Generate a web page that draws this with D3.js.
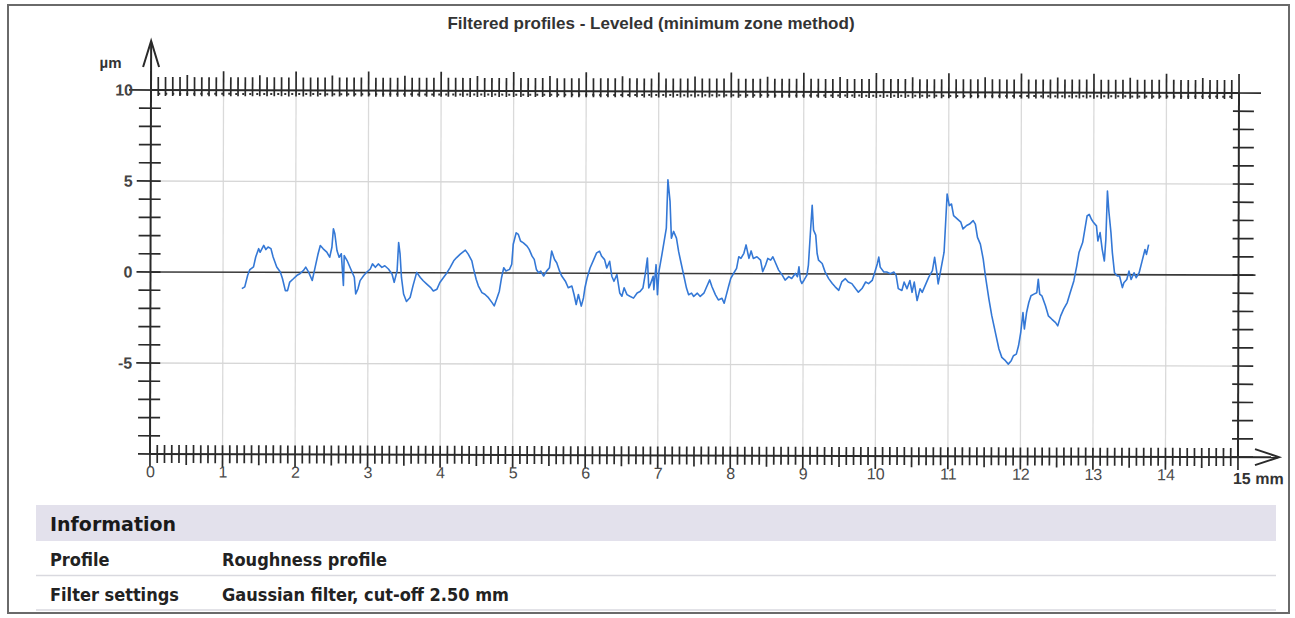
<!DOCTYPE html>
<html>
<head>
<meta charset="utf-8">
<script src="https://cdn.jsdelivr.net/npm/d3@7"></script>
<style>
  body { margin: 0; background: #fff; }
  svg { display: block; }
</style>
</head>
<body>
<div id="wrapper"></div>
<script>
// Profile (x in mm, height in µm)
const profileMm = [
  1.26, 1.30, 1.34, 1.37, 1.42, 1.45, 1.49, 1.51, 1.56, 1.59, 1.62, 1.66, 1.69, 1.74, 1.79, 1.82, 1.86, 1.89, 1.92, 1.97,
  2.02, 2.06, 2.11, 2.14, 2.18, 2.23, 2.27, 2.31, 2.34, 2.38, 2.43, 2.47, 2.50, 2.52, 2.54, 2.57, 2.60, 2.63, 2.66, 2.67,
  2.71, 2.75, 2.78, 2.81, 2.83, 2.86, 2.89, 2.94, 2.98, 3.03, 3.06, 3.10, 3.14, 3.19, 3.23, 3.28, 3.33, 3.36, 3.40, 3.42,
  3.44, 3.46, 3.49, 3.53, 3.58, 3.62, 3.67, 3.72, 3.76, 3.81, 3.86, 3.90, 3.95, 3.99, 4.04, 4.09, 4.13, 4.18, 4.22, 4.27,
  4.34, 4.38, 4.43, 4.45, 4.49, 4.52, 4.57, 4.61, 4.66, 4.71, 4.74, 4.78, 4.81, 4.84, 4.87, 4.90, 4.95, 4.98, 5.00, 5.04,
  5.07, 5.10, 5.14, 5.19, 5.22, 5.26, 5.29, 5.32, 5.35, 5.38, 5.42, 5.46, 5.50, 5.53, 5.57, 5.60, 5.64, 5.67, 5.72, 5.76,
  5.81, 5.84, 5.87, 5.90, 5.94, 5.97, 5.99, 6.02, 6.06, 6.11, 6.15, 6.19, 6.22, 6.26, 6.29, 6.33, 6.36, 6.39, 6.43, 6.47,
  6.50, 6.53, 6.57, 6.61, 6.66, 6.71, 6.75, 6.79, 6.82, 6.85, 6.87, 6.89, 6.93, 6.94, 6.97, 6.99, 7.01, 7.05, 7.08, 7.11,
  7.13, 7.16, 7.18, 7.21, 7.25, 7.28, 7.31, 7.35, 7.39, 7.42, 7.46, 7.49, 7.54, 7.58, 7.63, 7.67, 7.71, 7.74, 7.79, 7.83,
  7.88, 7.91, 7.94, 7.97, 8.00, 8.04, 8.08, 8.11, 8.14, 8.18, 8.21, 8.25, 8.28, 8.31, 8.36, 8.41, 8.44, 8.48, 8.51, 8.55,
  8.58, 8.61, 8.66, 8.71, 8.75, 8.80, 8.84, 8.89, 8.92, 8.94, 8.96, 8.98, 9.01, 9.05, 9.07, 9.10, 9.12, 9.14, 9.17, 9.19,
  9.21, 9.26, 9.30, 9.35, 9.40, 9.44, 9.49, 9.53, 9.58, 9.62, 9.67, 9.72, 9.76, 9.81, 9.86, 9.90, 9.95, 9.98, 10.02, 10.04,
  10.06, 10.11, 10.15, 10.20, 10.25, 10.28, 10.31, 10.36, 10.39, 10.43, 10.47, 10.50, 10.53, 10.57, 10.61, 10.64, 10.69, 10.73, 10.78, 10.81,
  10.84, 10.86, 10.89, 10.94, 10.98, 11.01, 11.04, 11.07, 11.12, 11.17, 11.20, 11.25, 11.29, 11.34, 11.37, 11.40, 11.44, 11.48, 11.51, 11.56,
  11.60, 11.65, 11.70, 11.74, 11.79, 11.83, 11.87, 11.90, 11.94, 11.97, 12.00, 12.03, 12.05, 12.08, 12.11, 12.14, 12.18, 12.22, 12.24, 12.26,
  12.29, 12.34, 12.38, 12.43, 12.48, 12.51, 12.55, 12.59, 12.64, 12.68, 12.73, 12.77, 12.80, 12.85, 12.88, 12.91, 12.94, 12.97, 13.00, 13.04,
  13.06, 13.09, 13.12, 13.15, 13.17, 13.19, 13.21, 13.24, 13.26, 13.29, 13.33, 13.36, 13.40, 13.42, 13.46, 13.49, 13.52, 13.56, 13.59, 13.63,
  13.67, 13.71, 13.73, 13.76
]
const profileUm = [
  -0.90, -0.80, -0.16, 0.15, 0.30, 0.84, 1.30, 1.10, 1.48, 1.25, 1.39, 1.30, 0.84, 0.29, 0.02, -0.35, -1.00, -1.00, -0.53, -0.35,
  -0.16, -0.07, 0.11, 0.29, 0.02, -0.44, 0.29, 1.03, 1.48, 1.30, 1.12, 0.84, 1.39, 2.40, 2.13, 1.21, 0.84, 1.03, -0.71, 0.93,
  0.66, 0.29, 0.02, -0.26, -1.17, -0.90, -0.44, -0.16, 0.02, 0.20, 0.48, 0.29, 0.48, 0.29, 0.38, 0.20, -0.07, -0.53, 0.11, 1.66,
  1.03, -0.26, -1.17, -1.58, -1.36, -0.71, 0.02, -0.26, -0.44, -0.62, -0.80, -1.00, -0.90, -0.53, -0.26, 0.02, 0.29, 0.66, 0.84, 1.03,
  1.25, 1.03, 0.66, 0.29, -0.35, -0.71, -1.08, -1.17, -1.36, -1.63, -1.81, -1.36, -1.00, -0.26, 0.29, 0.11, 0.20, 0.48, 1.58, 2.21,
  2.12, 1.76, 1.66, 1.48, 1.30, 0.93, 0.75, 0.20, 0.02, 0.11, -0.16, 0.11, 0.29, 1.21, 0.75, 0.57, 0.11, -0.16, -0.44, -0.80,
  -0.71, -1.17, -1.72, -1.17, -1.81, -1.36, -0.80, -0.26, 0.29, 0.75, 1.12, 1.21, 0.93, 0.75, 0.29, 0.66, -0.16, -0.44, -0.07, -1.08,
  -1.26, -0.80, -1.17, -1.26, -1.36, -1.08, -1.00, -0.80, -0.07, 0.84, -0.80, -0.62, -0.16, -0.90, 0.48, -1.17, 0.11, 1.03, 1.76, 2.49,
  5.15, 3.96, 1.94, 2.31, 1.94, 1.21, 0.66, -0.07, -0.80, -1.17, -1.08, -1.26, -1.08, -1.26, -1.08, -0.71, -0.35, -0.71, -1.17, -1.45,
  -1.36, -1.63, -1.17, -0.71, -0.26, 0.02, 0.29, 0.93, 0.84, 1.12, 1.58, 0.84, 1.25, 0.84, 0.93, 0.75, 0.11, 0.48, 0.84, 0.75,
  0.93, 0.66, 0.20, -0.07, -0.35, -0.16, -0.26, 0.02, -0.16, 0.38, -0.35, -0.53, -0.35, -0.07, 0.48, 2.49, 3.77, 2.40, 2.13, 1.12,
  0.75, 0.57, 0.11, -0.26, -0.53, -0.71, -0.90, -0.44, -0.26, -0.44, -0.53, -0.80, -1.00, -0.80, -0.44, -0.53, -0.35, 0.02, 0.57, 0.93,
  0.38, 0.11, 0.11, 0.02, 0.11, -0.07, -0.80, -0.90, -0.44, -0.80, -0.35, -1.00, -0.44, -1.45, -0.80, -1.00, -0.53, -0.16, 0.20, 0.93,
  0.11, -0.53, 0.11, 1.21, 4.41, 3.77, 3.86, 3.22, 3.04, 2.86, 2.49, 2.68, 2.76, 2.95, 2.76, 2.03, 1.66, 0.84, -0.07, -1.36,
  -2.27, -3.19, -4.10, -4.56, -4.74, -4.93, -4.74, -4.47, -4.38, -3.92, -3.19, -2.09, -3.00, -2.09, -1.54, -1.17, -1.08, -1.00, -0.26, -1.08,
  -1.17, -1.72, -2.27, -2.46, -2.64, -2.82, -2.27, -1.90, -1.54, -1.00, -0.35, 0.48, 1.21, 1.76, 2.49, 3.22, 3.31, 3.04, 2.86, 2.68,
  1.85, 2.31, 1.39, 0.75, 1.94, 4.60, 3.50, 2.31, 1.21, 0.11, -0.07, -0.07, -0.71, -0.44, -0.26, 0.20, -0.26, 0.11, -0.16, 0.11,
  0.75, 1.39, 1.12, 1.66
]

const xTickLabels = ["0", "1", "2", "3", "4", "5", "6", "7", "8", "9", "10", "11", "12", "13", "14"]
const xLastLabel = "15 mm"
const yTickValues = [10, 5, 0, -5]
const yGridValues = [5, -5]
const zoneTop = 9.8

const chartTitle = "Filtered profiles - Leveled (minimum zone method)"
const yUnit = "µm"
const infoHeader = "Information"
const infoLabels = ["Profile", "Filter settings"]
const infoValues = ["Roughness profile", "Gaussian filter, cut-off 2.50 mm"]

const dimensions = {
  width: 1295,
  height: 618,
  left: 150.5,
  right: 1238.5,
  top: 90,
  bottom: 454
}

const svg = d3.select("#wrapper")
  .append("svg")
  .attr("width", dimensions.width)
  .attr("height", dimensions.height)
  .style("font-family", "'Liberation Sans', Arial, sans-serif")

// frame
svg.append("rect")
  .attr("x", 8)
  .attr("y", 5)
  .attr("width", 1281)
  .attr("height", 608)
  .attr("fill", "none")
  .attr("stroke", "#6a6a6a")
  .attr("stroke-width", 2)

svg.append("text")
  .attr("x", 651)
  .attr("y", 29)
  .attr("text-anchor", "middle")
  .attr("font-size", "17px")
  .attr("font-weight", "bold")
  .attr("fill", "#333")
  .text(chartTitle)

// scanned page is slightly tilted
const plot = svg.append("g")
  .attr("transform", "rotate(0.16, 150, 272)")

const xScale = d3.scaleLinear()
  .domain([0, 15])
  .range([dimensions.left, dimensions.right])

const yScale = d3.scaleLinear()
  .domain([-10, 10])
  .range([dimensions.bottom, dimensions.top])

// grid
plot.append("g")
  .selectAll("line")
  .data(d3.range(1, 15))
  .join("line")
  .attr("x1", d => xScale(d))
  .attr("x2", d => xScale(d))
  .attr("y1", yScale(10))
  .attr("y2", yScale(-10))
  .attr("stroke", "#dadada")
  .attr("stroke-width", 1.3)

plot.append("g")
  .selectAll("line")
  .data(yGridValues)
  .join("line")
  .attr("x1", xScale(0))
  .attr("x2", xScale(15))
  .attr("y1", d => yScale(d))
  .attr("y2", d => yScale(d))
  .attr("stroke", "#d6d6d6")
  .attr("stroke-width", 1.3)

// zone line below top axis
plot.append("line")
  .attr("x1", xScale(0.1))
  .attr("x2", xScale(14.9))
  .attr("y1", yScale(zoneTop))
  .attr("y2", yScale(zoneTop))
  .attr("stroke", "#333")
  .attr("stroke-width", 2)
  .attr("stroke-dasharray", "2 5")

// zero line
plot.append("line")
  .attr("x1", xScale(0))
  .attr("x2", xScale(15) + 17)
  .attr("y1", yScale(0))
  .attr("y2", yScale(0))
  .attr("stroke", "#3a3a3a")
  .attr("stroke-width", 1.6)

// profile
const lineGenerator = d3.line()
  .x(d => xScale(profileMm[d]))
  .y(d => yScale(profileUm[d]))

plot.append("path")
  .attr("d", lineGenerator(d3.range(profileMm.length)))
  .attr("fill", "none")
  .attr("stroke", "#3478d6")
  .attr("stroke-width", 1.6)
  .attr("stroke-linejoin", "round")

// x ticks every 0.1 mm, top and bottom
const xMinor = d3.range(0, 151).map(i => i / 10)
const tickLen = (d, big, mid, small) => {
  const i = Math.round(d * 10)
  return i % 10 === 0 ? big : (i % 5 === 0 ? mid : small)
}

const axisColor = "#2a2a2a"

plot.append("g")
  .selectAll("line")
  .data(xMinor)
  .join("line")
  .attr("x1", d => xScale(d))
  .attr("x2", d => xScale(d))
  .attr("y1", d => yScale(10) - tickLen(d, 19, 15, 13))
  .attr("y2", yScale(10) + 6)
  .attr("stroke", axisColor)
  .attr("stroke-width", 1.7)

plot.append("g")
  .selectAll("line")
  .data(xMinor)
  .join("line")
  .attr("x1", d => xScale(d))
  .attr("x2", d => xScale(d))
  .attr("y1", yScale(-10) - 9)
  .attr("y2", d => yScale(-10) + tickLen(d, 13, 11, 9))
  .attr("stroke", axisColor)
  .attr("stroke-width", 1.7)

// y ticks every 1 µm, left and right
const yMinor = d3.range(-10, 11)

plot.append("g")
  .selectAll("line")
  .data(yMinor)
  .join("line")
  .attr("x1", d => xScale(0) - (yTickValues.includes(d) ? (d === 10 ? 22 : 14) : 12))
  .attr("x2", xScale(0) + 10)
  .attr("y1", d => yScale(d))
  .attr("y2", d => yScale(d))
  .attr("stroke", axisColor)
  .attr("stroke-width", 1.7)

plot.append("g")
  .selectAll("line")
  .data(yMinor)
  .join("line")
  .attr("x1", xScale(15) - 6)
  .attr("x2", d => xScale(15) + (d === 10 ? 22 : 15))
  .attr("y1", d => yScale(d))
  .attr("y2", d => yScale(d))
  .attr("stroke", axisColor)
  .attr("stroke-width", 1.7)

// axis lines
const axisLines = [
  [xScale(0), yScale(10), xScale(15), yScale(10)],
  [xScale(0), yScale(-10), xScale(15) + 40, yScale(-10)],
  [xScale(0), yScale(-10), xScale(0), yScale(10) - 48],
  [xScale(15), yScale(-10), xScale(15), yScale(10)]
]
plot.append("g")
  .selectAll("line")
  .data(axisLines)
  .join("line")
  .attr("x1", d => d[0])
  .attr("y1", d => d[1])
  .attr("x2", d => d[2])
  .attr("y2", d => d[3])
  .attr("stroke", axisColor)
  .attr("stroke-width", 2)

// arrow heads
const yArrowTip = [xScale(0), yScale(10) - 49]
plot.append("path")
  .attr("d", `M${yArrowTip[0] - 8},${yArrowTip[1] + 26} L${yArrowTip[0]},${yArrowTip[1]} L${yArrowTip[0] + 8},${yArrowTip[1] + 26}`)
  .attr("fill", "none")
  .attr("stroke", axisColor)
  .attr("stroke-width", 2)

const xArrowTip = [xScale(15) + 41, yScale(-10)]
plot.append("path")
  .attr("d", `M${xArrowTip[0] - 24},${xArrowTip[1] - 8} L${xArrowTip[0]},${xArrowTip[1]} L${xArrowTip[0] - 24},${xArrowTip[1] + 8}`)
  .attr("fill", "none")
  .attr("stroke", axisColor)
  .attr("stroke-width", 2)

// labels
const xAxisGenerator = d3.axisBottom(xScale)
  .tickValues(d3.range(0, 15))
  .tickSize(0)
  .tickPadding(12)
  .tickFormat((d, i) => xTickLabels[i])

const xAxis = plot.append("g")
  .attr("transform", `translate(0, ${yScale(-10)})`)
  .call(xAxisGenerator)
xAxis.select(".domain").remove()
xAxis.selectAll("text")
  .attr("font-size", "16px")
  .attr("font-family", "'Liberation Sans', Arial, sans-serif")
  .attr("fill", "#4a4a4a")

plot.append("text")
  .attr("x", xScale(15) - 5)
  .attr("y", yScale(-10) + 27)
  .attr("font-size", "16px")
  .attr("font-weight", "bold")
  .attr("fill", "#333")
  .text(xLastLabel)

const yAxisGenerator = d3.axisLeft(yScale)
  .tickValues(yTickValues)
  .tickSize(0)
  .tickPadding(18)
  .tickFormat(d => d3.format("d")(d).replace("−", "-"))

const yAxis = plot.append("g")
  .attr("transform", `translate(${xScale(0)}, 0)`)
  .call(yAxisGenerator)
yAxis.select(".domain").remove()
yAxis.selectAll("text")
  .attr("font-size", "16px")
  .attr("font-weight", "bold")
  .attr("font-family", "'Liberation Sans', Arial, sans-serif")
  .attr("fill", "#444")

plot.append("text")
  .attr("x", 121)
  .attr("y", 68)
  .attr("text-anchor", "end")
  .attr("font-size", "15px")
  .attr("font-weight", "bold")
  .attr("fill", "#333")
  .text(yUnit)

// information table
const table = svg.append("g")
  .style("font-family", "'DejaVu Sans Condensed', 'DejaVu Sans', sans-serif")

table.append("rect")
  .attr("x", 36)
  .attr("y", 505)
  .attr("width", 1240)
  .attr("height", 36)
  .attr("fill", "#e3e1ec")

table.append("text")
  .attr("x", 50)
  .attr("y", 531)
  .attr("font-size", "19px")
  .attr("font-weight", "bold")
  .attr("fill", "#1a1a1a")
  .style("font-family", "'DejaVu Sans', sans-serif")
  .text(infoHeader)

const rowY = d3.scaleBand()
  .domain(infoLabels)
  .range([541, 610])

table.selectAll(".row-line")
  .data(infoLabels)
  .join("line")
  .attr("class", "row-line")
  .attr("x1", 36)
  .attr("x2", 1276)
  .attr("y1", d => rowY(d) + rowY.bandwidth())
  .attr("y2", d => rowY(d) + rowY.bandwidth())
  .attr("stroke", "#d9d9df")
  .attr("stroke-width", 1.5)

table.selectAll(".row-label")
  .data(infoLabels)
  .join("text")
  .attr("class", "row-label")
  .attr("x", 50)
  .attr("y", d => rowY(d) + 25)
  .attr("font-size", "18px")
  .attr("fill", "#222")
  .style("font-weight", "600")
  .text(d => d)

table.selectAll(".row-value")
  .data(infoValues)
  .join("text")
  .attr("class", "row-value")
  .attr("x", 222)
  .attr("y", (d, i) => rowY(infoLabels[i]) + 25)
  .attr("font-size", "18px")
  .attr("fill", "#222")
  .style("font-weight", "600")
  .text(d => d)
</script>
</body>
</html>
